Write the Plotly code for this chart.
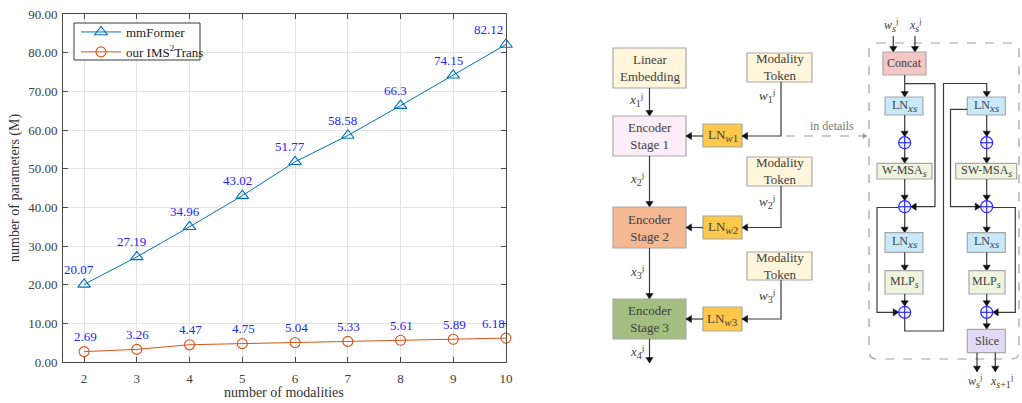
import plotly.graph_objects as go

# ---------------- data ----------------
modalities = [2, 3, 4, 5, 6, 7, 8, 9, 10]
mmformer = [20.07, 27.19, 34.96, 43.02, 51.77, 58.58, 66.3, 74.15, 82.12]
ims2trans = [2.69, 3.26, 4.47, 4.75, 5.04, 5.33, 5.61, 5.89, 6.18]
mmformer_labels = ["20.07", "27.19", "34.96", "43.02", "51.77", "58.58", "66.3", "74.15", "82.12"]
ims2trans_labels = ["2.69", "3.26", "4.47", "4.75", "5.04", "5.33", "5.61", "5.89", "6.18"]
y_ticks = [0, 10, 20, 30, 40, 50, 60, 70, 80, 90]
series_names = ["mmFormer", "our IMS<sup>2</sup>Trans"]

W, H = 1022, 403
SERIF = "Liberation Serif"
BLUE = "#0072BD"
ORANGE = "#D95319"
LABEL_BLUE = "#2323ff"


def X(p):
    return p / W


def Y(p):
    return 1 - p / H


def sub(s, px=10):
    return f"<sub><span style='font-size:{px}px'>{s}</span></sub>"


fig = go.Figure()
fig.add_trace(go.Scatter(
    x=modalities, y=mmformer, name=series_names[0], mode="lines+markers",
    line=dict(color=BLUE, width=1),
    marker=dict(symbol="triangle-up-open", size=11, color=BLUE, line=dict(width=1.1)),
    cliponaxis=False))
fig.add_trace(go.Scatter(
    x=modalities, y=ims2trans, name=series_names[1], mode="lines+markers",
    line=dict(color=ORANGE, width=1),
    marker=dict(symbol="circle-open", size=10, color=ORANGE, line=dict(width=1.1)),
    cliponaxis=False))

annotations = []
n = len(modalities)
for i, (xv, yv, t) in enumerate(zip(modalities, mmformer, mmformer_labels)):
    annotations.append(dict(x=xv, y=yv, xref="x", yref="y", text=t, showarrow=False,
                            xanchor="center", yanchor="middle",
                            yshift=15, xshift=(-18 if i == n - 1 else -5),
                            font=dict(family=SERIF, size=13, color=LABEL_BLUE)))
for i, (xv, yv, t) in enumerate(zip(modalities, ims2trans, ims2trans_labels)):
    annotations.append(dict(x=xv, y=yv, xref="x", yref="y", text=t, showarrow=False,
                            xanchor="center", yanchor="middle",
                            yshift=15, xshift=(-13 if i == n - 1 else 1),
                            font=dict(family=SERIF, size=13, color=LABEL_BLUE)))


def text(x, y, s, size=13, color="#404040", angle=0):
    annotations.append(dict(x=X(x), y=Y(y), xref="paper", yref="paper", text=s, showarrow=False,
                            xanchor="center", yanchor="middle", textangle=angle,
                            font=dict(family=SERIF, size=size, color=color)))


# axis titles
text(284, 392, "number of modalities", size=14, color="#333333")
text(15, 188, "number of parameters (M)", size=14, color="#333333", angle=-90)

# ---------------- diagram ----------------
shapes = []
LINE = "#3a3a3a"
BORDER = "#a8a8a8"
TXT = "#404040"
OPLUS = "#2b2bff"

# legend frame
shapes.append(dict(type="rect", xref="paper", yref="paper", x0=X(74), x1=X(200), y0=Y(60), y1=Y(23),
                   fillcolor="white", line=dict(color="#3a3a3a", width=1), layer="above"))


def box(x0, y0, x1, y1, fill):
    shapes.append(dict(type="rect", xref="paper", yref="paper", x0=X(x0), x1=X(x1), y0=Y(y1), y1=Y(y0),
                       fillcolor=fill, line=dict(color=BORDER, width=1.2), layer="above"))


def poly(pts, color=LINE, width=1.2, dash="solid"):
    d = "M " + " L ".join(f"{X(a):.5f},{Y(b):.5f}" for a, b in pts)
    shapes.append(dict(type="path", xref="paper", yref="paper", path=d,
                       line=dict(color=color, width=width, dash=dash)))


def head(x, y, direction, color="#111111", l=5.5, w=3.6):
    if direction == "down":
        pts = [(x - w, y - l), (x + w, y - l), (x, y)]
    elif direction == "up":
        pts = [(x - w, y + l), (x + w, y + l), (x, y)]
    elif direction == "left":
        pts = [(x + l, y - w), (x + l, y + w), (x, y)]
    else:
        pts = [(x - l, y - w), (x - l, y + w), (x, y)]
    d = "M " + " L ".join(f"{X(a):.5f},{Y(b):.5f}" for a, b in pts) + " Z"
    shapes.append(dict(type="path", xref="paper", yref="paper", path=d, fillcolor=color,
                       line=dict(color=color, width=0.5)))


def oplus(cx, cy, r=6):
    shapes.append(dict(type="circle", xref="paper", yref="paper", x0=X(cx - r), x1=X(cx + r),
                       y0=Y(cy + r), y1=Y(cy - r), line=dict(color=OPLUS, width=1.2),
                       fillcolor="white"))
    poly([(cx - r, cy), (cx + r, cy)], color=OPLUS, width=1.2)
    poly([(cx, cy - r), (cx, cy + r)], color=OPLUS, width=1.2)


CREAM = "#fff6dc"
# left flow
ecx = 649.5
box(613, 48, 686, 88, CREAM)
text(ecx, 68, "Linear<br>Embedding")
poly([(ecx, 88), (ecx, 116)]); head(ecx, 116, "down")
text(636, 100, "<i>x</i>" + sub("1") + "<sup>j</sup>")

stage_fill = ["#fdeefa", "#f4b893", "#a4bd80"]
stage_y = [(116, 156), (207, 248), (299, 339)]
ln_y = [(124, 147), (216, 239), (307, 331)]
tok_y = [(53, 82), (157, 186), (252, 280)]
wlab_y = [96, 202, 296]
xlab_y = [179, 272, 352]
for k in range(3):
    y0, y1 = stage_y[k]
    box(613, y0, 686, y1, stage_fill[k])
    text(ecx, (y0 + y1) / 2, f"Encoder<br>Stage {k + 1}")
    l0, l1 = ln_y[k]
    box(703, l0, 742, l1, "#fec84a")
    text(722.5, (l0 + l1) / 2, "LN" + sub(f"<i>w</i>{k + 1}", 11))
    ym = (y0 + y1) / 2
    poly([(703, ym), (686, ym)]); head(686, ym, "left")
    t0, t1 = tok_y[k]
    box(747, t0, 812, t1, CREAM)
    text(779.5, (t0 + t1) / 2, "Modality<br>Token")
    poly([(781, t1), (781, ym), (742, ym)]); head(742, ym, "left")
    text(767, wlab_y[k], "<i>w</i>" + sub(f"{k + 1}") + "<sup>j</sup>")
    if k < 2:
        ny = stage_y[k + 1][0]
        poly([(ecx, y1), (ecx, ny)]); head(ecx, ny, "down")
    else:
        poly([(ecx, y1), (ecx, 363)]); head(ecx, 363, "down")
    text(637, xlab_y[k], "<i>x</i>" + sub(f"{k + 2}") + "<sup>j</sup>")

# in details
poly([(786, 136), (864, 136)], color="#9a9a9a", width=1.2, dash="dash")
head(867, 136, "right", color="#9a9a9a", l=4, w=2.5)
text(832, 126, "in details", size=12, color="#7a7a7a")

# detail panel dashed rounded box
r = 8
x0, y0, x1, y1 = 869, 43, 1019, 359
d = (f"M {X(x0 + r):.5f},{Y(y0):.5f} L {X(x1 - r):.5f},{Y(y0):.5f} "
     f"Q {X(x1):.5f},{Y(y0):.5f} {X(x1):.5f},{Y(y0 + r):.5f} L {X(x1):.5f},{Y(y1 - r):.5f} "
     f"Q {X(x1):.5f},{Y(y1):.5f} {X(x1 - r):.5f},{Y(y1):.5f} L {X(x0 + r):.5f},{Y(y1):.5f} "
     f"Q {X(x0):.5f},{Y(y1):.5f} {X(x0):.5f},{Y(y1 - r):.5f} L {X(x0):.5f},{Y(y0 + r):.5f} "
     f"Q {X(x0):.5f},{Y(y0):.5f} {X(x0 + r):.5f},{Y(y0):.5f} Z")
shapes.append(dict(type="path", xref="paper", yref="paper", path=d,
                   line=dict(color="#a0a0a0", width=1.2, dash="dash")))

LBLUE = "#c8e9f9"
LGREEN = "#eef4de"
L = 904.7
R = 986.7
LNXS = "LN" + sub("<i>xs</i>", 11)
# inputs
text(891, 25, "<i>w</i>" + sub("<i>s</i>") + "<sup>j</sup>", size=12)
text(915, 25, "<i>x</i>" + sub("<i>s</i>") + "<sup>j</sup>", size=12)
poly([(893.3, 36), (893.3, 52)]); head(893.3, 52, "down")
poly([(915, 36), (915, 52)]); head(915, 52, "down")
box(883, 52, 926, 75, "#f4c6c4")
text(L, 63.5, "Concat", size=12)
# left column
poly([(L, 75), (L, 97)]); head(L, 97, "down")
poly([(L, 83.7), (935, 83.7), (935, 206.7), (910.7, 206.7)]); head(910.7, 206.7, "left")
box(885, 97, 923, 115, LBLUE); text(L, 106, LNXS, size=12)
poly([(L, 115), (L, 136.7)]); head(L, 136.7, "down")
oplus(L, 142.7)
poly([(L, 148.7), (L, 163.3)]); head(L, 163.3, "down")
box(877, 163.3, 932, 179, LGREEN); text(L, 171, "W-MSA" + sub("<i>s</i>"), size=12)
poly([(L, 179), (L, 200.7)]); head(L, 200.7, "down")
oplus(L, 206.7)
poly([(L, 212.7), (L, 232.7)]); head(L, 232.7, "down")
poly([(898.7, 207.5), (877, 207.5), (877, 312.3), (898.7, 312.3)]); head(898.7, 312.3, "right")
box(885, 232.7, 923, 252.3, LBLUE); text(L, 242.5, LNXS, size=12)
poly([(L, 252.3), (L, 270.7)]); head(L, 270.7, "down")
box(885, 270.7, 923, 294, LGREEN); text(L, 282.3, "MLP" + sub("<i>s</i>"), size=12)
poly([(L, 294), (L, 306.3)]); head(L, 306.3, "down")
oplus(L, 312.3)
poly([(L, 318.3), (L, 331), (943.5, 331), (943.5, 83.5), (R, 83.5), (R, 97)]); head(R, 97, "down")
# right column
box(967.3, 97, 1005.3, 115, LBLUE); text(R, 106, LNXS, size=12)
poly([(967.3, 109.3), (950.5, 109.3), (950.5, 206.7), (980.7, 206.7)]); head(980.7, 206.7, "right")
poly([(R, 115), (R, 136.7)]); head(R, 136.7, "down")
oplus(R, 142.7)
poly([(R, 148.7), (R, 163.3)]); head(R, 163.3, "down")
box(955.7, 163.3, 1016.7, 179, LGREEN); text(R, 171, "SW-MSA" + sub("<i>s</i>"), size=12)
poly([(R, 179), (R, 200.7)]); head(R, 200.7, "down")
oplus(R, 206.7)
poly([(992.7, 207.5), (1015.3, 207.5), (1015.3, 312.3), (992.7, 312.3)]); head(992.7, 312.3, "left")
poly([(R, 212.7), (R, 232.7)]); head(R, 232.7, "down")
box(967.3, 232.7, 1005.3, 252.3, LBLUE); text(R, 242.5, LNXS, size=12)
poly([(R, 252.3), (R, 270.7)]); head(R, 270.7, "down")
box(969, 270.7, 1005, 294, LGREEN); text(R, 282.3, "MLP" + sub("<i>s</i>"), size=12)
poly([(R, 294), (R, 306.3)]); head(R, 306.3, "down")
oplus(R, 312.3)
poly([(R, 318.3), (R, 329.3)]); head(R, 329.3, "down")
box(967.3, 329.3, 1005.3, 352.7, "#e3dbf5"); text(R, 341, "Slice", size=12)
poly([(977, 352.7), (977, 371.7)]); head(977, 371.7, "down")
poly([(995.3, 352.7), (995.3, 371.7)]); head(995.3, 371.7, "down")
text(975, 381, "<i>w</i>" + sub("<i>s</i>") + "<sup>j</sup>", size=12)
text(1001, 381, "<i>x</i>" + sub("<i>s</i>+1") + "<sup>j</sup>", size=12)

# ---------------- layout ----------------
axis_common = dict(showgrid=True, gridcolor="#e3e3e3", gridwidth=1, showline=True, linecolor="#4a4a4a",
                   linewidth=1, mirror="ticks", ticks="inside", ticklen=5, tickcolor="#4a4a4a",
                   tickfont=dict(family=SERIF, size=13, color="#404040"), zeroline=False,
                   automargin=False)
fig.update_layout(
    width=W, height=H, margin=dict(l=0, r=0, t=0, b=0, pad=0),
    paper_bgcolor="white", plot_bgcolor="white",
    xaxis=dict(domain=[X(63), X(506)], range=[1.6, 10], tickvals=modalities, ticklabelstandoff=4,
               **axis_common),
    yaxis=dict(domain=[Y(362), Y(14)], range=[0, 90], tickvals=y_ticks, tickformat=".2f",
               ticklabelstandoff=2, **axis_common),
    legend=dict(x=X(76), y=Y(17), xanchor="left", yanchor="top", bgcolor="rgba(0,0,0,0)",
                borderwidth=0, font=dict(family=SERIF, size=13, color="#222222"),
                tracegroupgap=0, itemwidth=40),
    shapes=shapes, annotations=annotations, showlegend=True,
)

fig.write_html("out.html", config={"displayModeBar": False},
               post_script="document.body.style.margin='0';document.body.style.overflow='hidden';")
